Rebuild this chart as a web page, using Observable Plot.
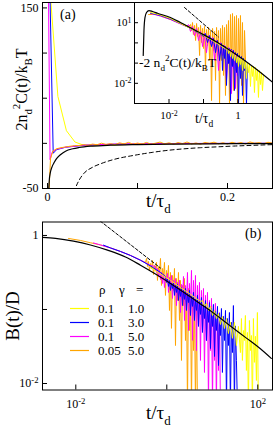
<!DOCTYPE html>
<html><head><meta charset="utf-8">
<script src="https://cdn.jsdelivr.net/npm/d3@7"></script>
<script src="https://cdn.jsdelivr.net/npm/@observablehq/plot@0.6"></script>
<style>
body{margin:0;background:#fff;}
#chart{position:relative;width:273px;height:429px;}
#chart svg{position:absolute;}
#chart svg, #chart svg text, #chart svg tspan{font-family:"Liberation Serif","Times New Roman",serif !important;}
</style></head><body><div id="chart"></div>
<script>
// ---------- Panel (a) main: t/tau_d vs 2 n_d^2 C(t)/k_B T ----------
const aBlack = [[0.0008,-70],[0.0014,-50],[0.002,-40],[0.003,-33],[0.005,-26],[0.0075,-21],[0.01,-17],[0.015,-12],[0.02,-8.7],[0.028,-6],[0.035,-4.6],[0.05,-3],[0.07,-2],[0.1,-1.3],[0.14,-0.8],[0.18,-0.5],[0.25,-0.2]];
const aDashed = [[0.028,-62],[0.031,-50],[0.035,-41],[0.040,-33.7],[0.05,-26.5],[0.059,-22.6],[0.075,-17.5],[0.096,-13.3],[0.115,-10.2],[0.133,-7.8],[0.15,-6.2],[0.17,-4.8],[0.19,-3.8],[0.207,-3],[0.228,-2.2],[0.25,-1.4]];
const aYellow = [[0.001,194],[0.0115,52],[0.021,14],[0.0305,1.5],[0.040,-2],[0.05,-2.6],[0.065,-2],[0.08,-1.5],[0.1,-1],[0.13,-0.6],[0.16,-0.3],[0.2,-0.2],[0.25,0]];
const aBlue = [[0.001,246],[0.0063,-11],[0.01,-7],[0.02,-4.3],[0.04,-2.2],[0.08,-0.8],[0.15,-0.2],[0.25,0.1]];
const aMagenta = [[0.0005,220],[0.0028,-18],[0.005,-10],[0.01,-6.5],[0.02,-4.2],[0.04,-2],[0.08,-0.6],[0.15,-0.1],[0.25,0]];
const aOrange = [[0.0012,-62],[0.0033,-17],[0.006,-8.5],[0.01,-6],[0.015,-4.8],[0.02,-4],[0.025,-3.2],[0.03,-2.6],[0.035,-2.4],[0.04,-1.4],[0.045,-2.2],[0.05,-0.8],[0.055,-1.5],[0.06,0.2],[0.065,-1.2],[0.07,-0.3],[0.075,-1.4],[0.08,0.6],[0.085,-0.6],[0.09,1.1],[0.095,-0.9],[0.1,0.3],[0.105,-0.7],[0.11,1],[0.115,-0.9],[0.12,0.2],[0.125,1.4],[0.13,-0.5],[0.135,0.6],[0.14,-0.9],[0.145,0.9],[0.15,-0.3],[0.155,1.5],[0.16,-0.6],[0.165,0.4],[0.17,-0.9],[0.175,1],[0.18,0.1],[0.185,1.3],[0.19,-0.5],[0.195,0.7],[0.2,-0.7],[0.205,1.2],[0.21,-0.2],[0.215,0.9],[0.22,-0.7],[0.225,1.6],[0.23,0.1],[0.235,0.8],[0.24,-0.5],[0.245,1.2],[0.25,0.2]];
const aXTicks = [0, 0.1, 0.2];
const aXLabels = [0, 0.2];
const aYTicks = [-50, 0, 50, 100, 150];
const aYLabels = [-50, 150];

// ---------- Inset: -2 n_d^2 C(t)/k_B T, log-log ----------
const iBlack = [[0.00179,0.24],[0.00188,4.1],[0.00201,18],[0.00223,32],[0.00263,40],[0.00333,36],[0.00465,29.5],[0.011,18],[0.0215,10.2],[0.067,3.66],[0.255,1.05],[0.97,0.24],[3.2,0.054],[10,0.0113]];
const iDashed = [[0.0281,56.5],[0.272,1.96]];
const iOrange = [[0.00255,25.4],[0.00406,25.4],[0.00568,21.4],[0.011,14.4],[0.0215,9.1],[0.0367,6.5],[0.042,8.1],[0.045,4.1],[0.048,10.2],[0.051,2.6],[0.055,7.3],[0.059,1.31],[0.063,9.1],[0.067,2.1],[0.072,5.8],[0.077,0.237],[0.082,7.3],[0.088,1.04],[0.094,5.2],[0.10,0.53],[0.107,6.5],[0.114,0.043],[0.122,4.6],[0.131,0.74],[0.14,5.8],[0.15,0.135],[0.16,4.1],[0.171,0.0014],[0.183,5.2],[0.195,0.42],[0.209,3.7],[0.223,0.0138],[0.239,5.8],[0.255,0.237],[0.273,4.1],[0.292,0.0008],[0.311,5.2],[0.333,0.135],[0.356,7.3],[0.38,0.0245],[0.406,5.8],[0.434,0.0025],[0.464,8.1],[0.496,0.17],[0.53,12.8],[0.567,0.0008],[0.606,25.4],[0.648,0.076],[0.693,28.5],[0.74,0.0044],[0.792,20.2],[0.847,0.043],[0.905,22.7],[0.968,0.0008],[1.035,16.1],[1.106,0.106],[1.18,22.7],[1.265,0.0078],[1.35,10.2],[1.445,0.0008],[1.545,4.1],[1.65,0.135]];
const iMagenta = [[0.00291,28.5],[0.00568,21.4],[0.011,14.4],[0.0215,8.6],[0.032,6.5],[0.0367,8.1],[0.042,3.7],[0.048,6.5],[0.055,2.3],[0.063,5.2],[0.072,1.31],[0.082,3.7],[0.094,0.66],[0.107,2.9],[0.122,0.33],[0.14,2.3],[0.16,0.83],[0.183,1.85],[0.209,0.135],[0.239,1.31],[0.273,0.043],[0.311,1.04],[0.356,0.237],[0.406,0.74],[0.464,0.0138],[0.53,0.59],[0.567,0.106],[0.606,0.47],[0.648,0.0031],[0.693,0.42],[0.74,0.054],[0.792,0.33],[0.847,0.0055],[0.905,0.265],[0.968,0.0245]];
const iBlue = [[0.00291,30],[0.00568,22.7],[0.011,15.2],[0.0215,9.1],[0.042,5.2],[0.082,2.75],[0.10,2.1],[0.114,2.9],[0.131,1.04],[0.15,2.3],[0.171,0.66],[0.195,1.65],[0.223,0.33],[0.255,1.31],[0.292,0.135],[0.333,0.93],[0.356,0.043],[0.38,0.74],[0.406,0.17],[0.434,0.66],[0.464,0.0078],[0.496,0.59],[0.53,0.095],[0.567,0.53],[0.606,0.0014],[0.648,0.47],[0.693,0.068],[0.74,0.42],[0.792,0.0044],[0.847,0.33],[0.905,0.034],[0.968,0.30],[1.035,0.0008],[1.106,0.237],[1.18,0.0174],[1.265,0.21],[1.35,0.0025],[1.445,0.17],[1.545,0.043],[1.65,0.135],[1.76,0.0008],[1.88,0.106]];
const iYellow = [[0.00291,32],[0.00568,24],[0.011,16.1],[0.0215,9.1],[0.042,5.2],[0.082,2.9],[0.16,1.47],[0.311,0.74],[0.434,0.50],[0.496,0.59],[0.53,0.30],[0.567,0.47],[0.606,0.21],[0.648,0.42],[0.693,0.17],[0.74,0.33],[0.792,0.135],[0.847,0.265],[0.905,0.106],[0.968,0.21],[1.035,0.068],[1.106,0.19],[1.18,0.085],[1.265,0.17],[1.35,0.043],[1.445,0.15],[1.545,0.054],[1.65,0.12],[1.76,0.0174],[1.88,0.106],[2.01,0.034],[2.15,0.095],[2.30,0.007],[2.46,0.076],[2.63,0.0219],[2.81,0.068],[3.0,0.0035],[3.21,0.061],[3.43,0.0138],[3.67,0.048],[3.92,0.002],[4.19,0.043],[4.49,0.0087],[4.8,0.034],[5.13,0.0044],[5.48,0.0245]];
const iXTicks = [0.01, 0.1, 1];
const iXLabels = [0.01, 1];
const iYTicks = [0.01, 0.1, 1, 10];
const iYLabels = [0.01, 10];

// ---------- Panel (b): B(t)/D, log-log ----------
const bBlack = [[0.00185,0.94],[0.00358,0.911],[0.0089,0.838],[0.021,0.744],[0.0498,0.633],[0.1236,0.512],[0.264,0.397],[0.564,0.302],[1.205,0.225],[2.574,0.165],[5.5,0.119],[11.7,0.0858],[25.0,0.060],[53.4,0.042],[114,0.0294],[198,0.0218]];
const bDashed = [[0.028,1.73],[0.726,0.363]];
const bOrange = [[0.00692,0.911],[0.0127,0.856],[0.021,0.797],[0.0349,0.744],[0.0579,0.678],[0.096,0.608],[0.159,0.537],[0.264,0.463],[0.340,0.432],[0.358,0.489],[0.376,0.381],[0.396,0.445],[0.416,0.337],[0.438,0.418],[0.461,0.358],[0.485,0.459],[0.510,0.297],[0.536,0.393],[0.564,0.337],[0.593,0.432],[0.624,0.247],[0.656,0.381],[0.690,0.307],[0.726,0.489],[0.764,0.211],[0.804,0.358],[0.845,0.279],[0.889,0.432],[0.935,0.155],[0.984,0.337],[1.035,0.247],[1.089,0.393],[1.145,0.097],[1.205,0.316],[1.267,0.0556],[1.333,0.288],[1.402,0.181],[1.475,0.358],[1.552,0.0326],[1.632,0.262],[1.717,0.132],[1.806,0.316],[1.900,0.071],[1.998,0.247],[2.102,0.0205],[2.211,0.211],[2.326,0.113],[2.447,0.262],[2.574,0.0381],[2.707,0.181],[2.848,0.005],[2.996,0.192],[3.151,0.052],[3.315,0.155],[3.487,0.005],[3.668,0.132],[3.858,0.0279],[4.059,0.113],[4.269,0.005],[4.491,0.097],[4.724,0.005]];
const bMagenta = [[0.0245,0.792],[0.0349,0.744],[0.0579,0.678],[0.096,0.608],[0.159,0.537],[0.264,0.463],[0.438,0.393],[0.564,0.381],[0.593,0.316],[0.624,0.358],[0.656,0.279],[0.690,0.337],[0.726,0.254],[0.764,0.316],[0.804,0.225],[0.845,0.297],[0.889,0.198],[0.935,0.279],[0.984,0.247],[1.035,0.307],[1.089,0.170],[1.145,0.271],[1.205,0.211],[1.267,0.288],[1.333,0.141],[1.402,0.247],[1.475,0.181],[1.552,0.262],[1.632,0.113],[1.717,0.232],[1.806,0.155],[1.900,0.247],[1.998,0.091],[2.102,0.218],[2.211,0.132],[2.326,0.279],[2.447,0.071],[2.574,0.211],[2.707,0.113],[2.848,0.316],[2.996,0.052],[3.151,0.225],[3.315,0.097],[3.487,0.337],[3.668,0.0383],[3.858,0.247],[4.059,0.0755],[4.269,0.288],[4.491,0.0279],[4.724,0.211],[4.969,0.060],[5.227,0.232],[5.499,0.0205],[5.78,0.181],[6.08,0.052],[6.40,0.192],[6.73,0.0141],[7.08,0.155],[7.45,0.0383],[7.84,0.170],[8.24,0.005],[8.67,0.132],[9.12,0.0279],[9.60,0.141],[10.1,0.005],[10.6,0.113],[11.2,0.0205],[11.7,0.121],[12.3,0.005],[13.0,0.097],[13.7,0.015],[14.4,0.091],[15.1,0.005]];
const bBlue = [[0.0406,0.740],[0.0579,0.678],[0.096,0.608],[0.159,0.537],[0.264,0.463],[0.438,0.387],[0.726,0.316],[0.935,0.279],[0.984,0.232],[1.035,0.262],[1.089,0.205],[1.145,0.247],[1.205,0.181],[1.267,0.225],[1.333,0.192],[1.402,0.232],[1.475,0.155],[1.552,0.211],[1.632,0.170],[1.717,0.218],[1.806,0.132],[1.900,0.192],[1.998,0.150],[2.102,0.198],[2.211,0.113],[2.326,0.181],[2.447,0.137],[2.574,0.192],[2.707,0.097],[2.848,0.165],[2.996,0.124],[3.151,0.181],[3.315,0.083],[3.487,0.150],[3.668,0.110],[3.858,0.170],[4.059,0.071],[4.269,0.137],[4.491,0.097],[4.724,0.155],[4.969,0.059],[5.227,0.132],[5.499,0.0858],[5.78,0.145],[6.08,0.0489],[6.40,0.121],[6.73,0.0755],[7.08,0.132],[7.45,0.0381],[7.84,0.110],[8.24,0.067],[8.67,0.124],[9.12,0.0297],[9.60,0.103],[10.1,0.059],[10.6,0.117],[11.2,0.0232],[11.7,0.094],[12.3,0.052],[13.0,0.110],[13.7,0.0175],[14.4,0.0884],[15.1,0.0445],[15.9,0.103],[16.7,0.0141],[17.6,0.0806],[18.5,0.0381],[19.5,0.097],[20.5,0.005],[21.5,0.0755],[22.6,0.0326],[23.8,0.091],[25.0,0.005],[26.3,0.067],[27.7,0.0262],[29.1,0.113],[30.6,0.005],[32.2,0.060],[33.9,0.0205],[35.7,0.005]];
const bYellow = [[0.438,0.369],[0.726,0.302],[1.205,0.247],[1.998,0.198],[3.315,0.160],[5.499,0.128],[6.08,0.132],[6.73,0.110],[7.45,0.121],[8.24,0.097],[9.12,0.110],[10.1,0.083],[11.2,0.097],[12.3,0.0755],[13.7,0.0884],[15.1,0.0627],[16.7,0.0806],[18.5,0.0554],[20.5,0.0755],[22.6,0.0474],[25.0,0.0674],[27.7,0.0408],[30.6,0.067],[33.9,0.0326],[37.5,0.0591],[41.5,0.0262],[43.7,0.0755],[45.9,0.0205],[48.3,0.052],[50.8,0.0381],[53.4,0.083],[56.2,0.015],[59.1,0.0489],[62.2,0.005],[65.4,0.071],[68.8,0.0279],[72.4,0.0445],[76.1,0.005],[80.1,0.0755],[84.2,0.0193],[88.6,0.0434],[93.2,0.011],[98.0,0.091],[103,0.005]];
const bXTicks = [0.01, 1, 100];
const bXLabels = [0.01, 100];
const bYTicks = [0.01, 0.1, 1];
const bYLabels = [0.01, 1];

// legend
const legendNames = [["0.1","1.0"],["0.1","3.0"],["0.1","5.0"],["0.05","5.0"]];
const legendColors = ["#ffff00","#0000ff","#ff00ff","#ffa500"];

const serif = '"Liberation Serif", "Times New Roman", serif';
const expLabel = d => ({0.01:"10^-2", 10:"10^1", 100:"10^2", 1:"1"})[d] ?? String(d);
const X = d => d[0], Y = d => d[1];
const ln = (data, stroke, extra = {}) => Plot.line(data, {x: X, y: Y, stroke, strokeWidth: 1, clip: true, ...extra});

function supify(svg) {
  svg.querySelectorAll("text").forEach(t => {
    const s = t.textContent;
    const m = /^(.*)\^(.+)$/.exec(s);
    if (!m) return;
    t.textContent = "";
    t.appendChild(document.createTextNode(m[1]));
    const sp = document.createElementNS("http://www.w3.org/2000/svg", "tspan");
    sp.setAttribute("dy", "-0.45em");
    sp.setAttribute("font-size", "0.72em");
    sp.textContent = m[2];
    t.appendChild(sp);
  });
}
function place(svg, left, top) {
  svg.style.left = left + "px"; svg.style.top = top + "px";
  svg.setAttribute("font-family", serif);
  supify(svg);
  document.getElementById("chart").appendChild(svg);
}
const baseStyle = {fontFamily: serif, fontSize: "12px", background: "transparent", color: "black", overflow: "visible"};

// Panel (a)
const plotA = Plot.plot({
  width: 273, height: 215,
  marginLeft: 42, marginRight: 1, marginTop: 2, marginBottom: 27,
  x: {type: "linear", domain: [-0.0056, 0.25]},
  y: {type: "linear", domain: [-50, 156]},
  style: baseStyle,
  marks: [
    ln(aYellow, "#ffff00"),
    ln(aBlue, "#0000ff"),
    ln(aMagenta, "#ff00ff"),
    ln(aOrange, "#ffa500"),
    ln(aBlack, "black", {curve: "monotone-x", strokeWidth: 1.2}),
    ln(aDashed, "black", {curve: "monotone-x", strokeDasharray: "4,3"}),
    Plot.frame({stroke: "black"}),
    Plot.axisX(aXTicks, {tickSize: -5, tickFormat: () => "", label: null}),
    Plot.axisX(aXLabels, {tickSize: 0, tickPadding: 4, tickFormat: d => String(d), label: null}),
    Plot.axisY(aYTicks, {tickSize: -5, tickFormat: () => "", label: null}),
    Plot.axisY(aYLabels, {tickSize: 0, tickPadding: 4, tickFormat: d => String(d), label: null})
  ]
});
place(plotA, 0, 0);

// Inset
const plotI = Plot.plot({
  width: 173, height: 125,
  marginLeft: 34, marginRight: 1, marginTop: 2, marginBottom: 22,
  x: {type: "log", domain: [1e-3, 1e1]},
  y: {type: "log", domain: [1e-3, 1e2]},
  style: {...baseStyle, fontSize: "11px"},
  marks: [
    Plot.frame({fill: "white"}),
    ln(iOrange, "#ffa500"),
    ln(iMagenta, "#ff00ff"),
    ln(iBlue, "#0000ff"),
    ln(iYellow, "#ffff00"),
    ln(iBlack, "black", {curve: "monotone-x", strokeWidth: 1.2}),
    ln(iDashed, "black", {strokeDasharray: "3,2"}),
    Plot.frame({stroke: "black"}),
    Plot.axisX(iXTicks, {tickSize: -4, tickFormat: () => "", label: null}),
    Plot.axisX(iXLabels, {tickSize: 0, tickPadding: 8, tickFormat: expLabel, label: null}),
    Plot.axisY(iYTicks, {tickSize: -4, tickFormat: () => "", label: null}),
    Plot.axisY(iYLabels, {tickSize: 0, tickPadding: 3, tickFormat: expLabel, label: null})
  ]
});
place(plotI, 100, 0);

// Panel (b)
const plotB = Plot.plot({
  width: 273, height: 214,
  marginLeft: 42, marginRight: 1, marginTop: 6.5, marginBottom: 39.5,
  x: {type: "log", domain: [0.001854, 210.4]},
  y: {type: "log", domain: [0.00817, 1.52]},
  style: baseStyle,
  marks: [
    ln(bOrange, "#ffa500"),
    ln(bMagenta, "#ff00ff"),
    ln(bBlue, "#0000ff"),
    ln(bYellow, "#ffff00"),
    ln(bBlack, "black", {curve: "monotone-x", strokeWidth: 1.2}),
    ln(bDashed, "black", {strokeDasharray: "3,2"}),
    Plot.frame({stroke: "black"}),
    Plot.axisX(bXTicks, {tickSize: -5, tickFormat: () => "", label: null}),
    Plot.axisX(bXLabels, {tickSize: 0, tickPadding: 9, tickFormat: expLabel, label: null}),
    Plot.axisY(bYTicks, {tickSize: -5, tickFormat: () => "", label: null}),
    Plot.axisY(bYLabels, {tickSize: 0, tickPadding: 4, tickFormat: expLabel, label: null})
  ]
});
place(plotB, 0, 215);

// Overlay: titles, axis labels, legend
const ov = d3.create("svg").attr("width", 273).attr("height", 429)
  .style("left", "0px").style("top", "0px")
  .attr("font-family", serif).attr("fill", "black");
function rich(x, y, size, parts, rotate = false, anchor = "start") {
  const t = ov.append("text").attr("font-size", size).attr("text-anchor", anchor);
  if (rotate) t.attr("transform", `translate(${x},${y}) rotate(-90)`);
  else t.attr("x", x).attr("y", y);
  let shift = 0;
  for (const [s, k] of parts) {
    const target = k === "sub" ? 0.3 * size : k === "sup" ? -0.42 * size : 0;
    const ts = t.append("tspan").attr("dy", target - shift).text(s);
    if (k !== "n") ts.attr("font-size", size * 0.68);
    shift = target;
  }
  return t;
}
rich(60, 19, 14, [["(a)","n"]]);
rich(245, 238, 14, [["(b)","n"]]);
rich(27, 89.5, 16, [["2n","n"],["d","sub"],["2","sup"],["C(t)/k","n"],["B","sub"],["T","n"]], true, "middle");
rich(19, 316, 19, [["B(t)/D","n"]], true, "middle");
rich(146, 207, 19, [["t/τ","n"],["d","sub"]]);
rich(146, 419, 19, [["t/τ","n"],["d","sub"]]);
rich(139, 67, 13.5, [["-2 n","n"],["d","sub"],["2","sup"],["C(t)/k","n"],["B","sub"],["T","n"]]);
rich(195, 123, 14, [["t/τ","n"],["d","sub"]]);
// legend
rich(99, 293.5, 13, [["ρ","n"]]);
rich(119, 293.5, 13, [["γ","n"]]);
rich(136, 293.5, 13, [["=","n"]]);
const rowsY = [308.5, 322.5, 336.5, 350.5];
legendNames.forEach(([r, g], i) => {
  ov.append("line").attr("x1", 70).attr("x2", 89).attr("y1", rowsY[i]).attr("y2", rowsY[i])
    .attr("stroke", legendColors[i]).attr("stroke-width", 1.2);
  rich(98, rowsY[i] + 4.5, 13, [[r, "n"]]);
  rich(128, rowsY[i] + 4.5, 13, [[g, "n"]]);
});
document.getElementById("chart").appendChild(ov.node());
</script>
</body></html>
